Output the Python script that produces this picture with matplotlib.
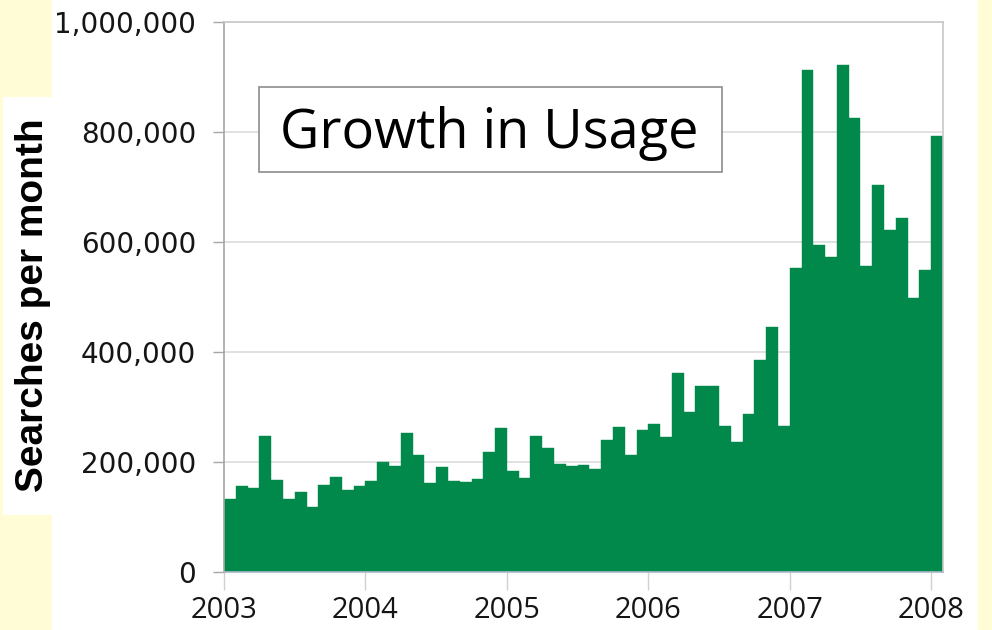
import numpy as np
import matplotlib
matplotlib.use("Agg")
import matplotlib.pyplot as plt
from matplotlib.patches import Rectangle

# monthly searches, Jan 2003 .. Jan 2008
searches = [
    133000, 156000, 152000, 247000, 168000, 133000, 145000, 119000, 158000, 172000, 149000, 156000,
    166000, 200000, 192000, 253000, 213000, 161000, 191000, 165000, 164000, 169000, 219000, 262000,
    183000, 171000, 247000, 225000, 196000, 193000, 194000, 188000, 240000, 263000, 212000, 259000,
    270000, 245000, 361000, 291000, 339000, 339000, 265000, 237000, 287000, 385000, 446000, 265000,
    553000, 912000, 594000, 573000, 922000, 826000, 556000, 703000, 621000, 643000, 498000, 550000,
    793000,
]
start_year = 2003
year_ticks = [2003, 2004, 2005, 2006, 2007, 2008]
y_ticks = [0, 200000, 400000, 600000, 800000, 1000000]

W, H = 992, 630
fig = plt.figure(figsize=(W / 100, H / 100), dpi=100)
fig.patch.set_facecolor("#fffcd6")

# white backdrop and the white strip behind the y label
fig.patches.append(Rectangle((52 / W, 0), (978 - 52) / W, 1, transform=fig.transFigure,
                             facecolor="white", edgecolor="none", zorder=-2))
fig.patches.append(Rectangle((3 / W, 1 - 515 / H), 50 / W, (515 - 97) / H, transform=fig.transFigure,
                             facecolor="white", edgecolor="none", zorder=-2))

ax = fig.add_axes([224 / W, 1 - 572 / H, (943 - 224) / W, (572 - 22) / H])
ax.set_zorder(1)
ax.set_facecolor("white")

x = start_year + np.arange(len(searches)) / 12
ax.bar(x, searches, width=1 / 12, align="edge", color="#00894b", edgecolor="#00894b",
       linewidth=0.3, zorder=2)

ax.set_xlim(start_year, start_year + len(searches) / 12)
ax.set_ylim(0, 1000000)
ax.set_xticks(year_ticks)
ax.set_xticklabels([str(y) for y in year_ticks], fontfamily="Open Sans", fontsize=21,
                   color="#151515")
ax.set_yticks(y_ticks)
ax.set_yticklabels([f"{v:,}" for v in y_ticks], fontfamily="DejaVu Sans", fontsize=20,
                   color="#151515")

ax.grid(axis="y", color="#dcdcdc", linewidth=1.2, zorder=0)
ax.set_axisbelow(True)

for side in ["top", "right"]:
    ax.spines[side].set_color("#c8c8c8")
ax.spines["left"].set_color("#a6a6a6")
ax.spines["bottom"].set_color("#a9b7c6")
for s in ax.spines.values():
    s.set_linewidth(1.2)

ax.tick_params(axis="y", length=8, width=1, color="#a6a6a6", pad=12)
ax.tick_params(axis="x", length=13, width=1, color="#d0d0d0", pad=4)

fig.text(33 / W, 1 - 305 / H, "Searches per month", rotation=90, ha="center", va="center",
         fontsize=28, fontweight="bold", fontfamily="Liberation Sans", color="black")

# title box
fig.patches.append(Rectangle((259 / W, 1 - 172 / H), (722 - 259) / W, (172 - 87) / H,
                             transform=fig.transFigure, facecolor="white", edgecolor="#8c8c8c",
                             linewidth=1.2, zorder=5))
fig.text(489 / W, 1 - 148 / H, "Growth in Usage", ha="center", va="baseline",
         fontsize=39, fontfamily="Open Sans", color="black", zorder=6)

fig.savefig("out.png", dpi=100, facecolor=fig.get_facecolor())
